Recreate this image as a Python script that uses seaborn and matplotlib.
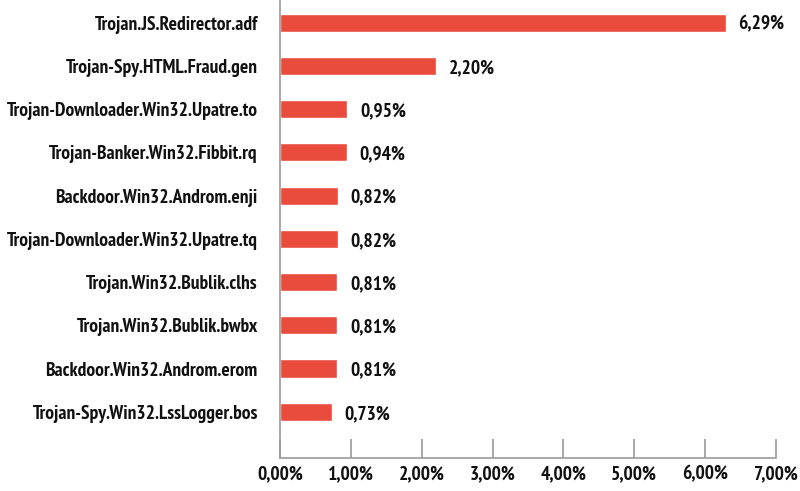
import matplotlib
matplotlib.use("Agg")
import matplotlib.pyplot as plt
import seaborn as sns
import pandas as pd
from matplotlib.ticker import FuncFormatter

names = [
    "Trojan.JS.Redirector.adf",
    "Trojan-Spy.HTML.Fraud.gen",
    "Trojan-Downloader.Win32.Upatre.to",
    "Trojan-Banker.Win32.Fibbit.rq",
    "Backdoor.Win32.Androm.enji",
    "Trojan-Downloader.Win32.Upatre.tq",
    "Trojan.Win32.Bublik.clhs",
    "Trojan.Win32.Bublik.bwbx",
    "Backdoor.Win32.Androm.erom",
    "Trojan-Spy.Win32.LssLogger.bos",
]
shares = [6.29, 2.20, 0.95, 0.94, 0.82, 0.82, 0.81, 0.81, 0.81, 0.73]

df = pd.DataFrame({"name": names, "share": shares})

sns.set_style("white")
plt.rcParams["font.family"] = ["PT Sans Narrow", "Liberation Sans Narrow", "DejaVu Sans"]
plt.rcParams["font.weight"] = "bold"

fig, ax = plt.subplots(figsize=(8, 4.91), dpi=100)
fig.subplots_adjust(left=0.35, right=0.97, top=0.998, bottom=0.067)

sns.barplot(data=df, x="share", y="name", color="#e94b3c", width=0.42,
            saturation=1, ax=ax)


def pct(v):
    return f"{v:.2f}".replace(".", ",") + "%"


for i, v in enumerate(shares):
    ax.text(v + 0.18, i + 0.05, pct(v), va="center", ha="left",
            fontsize=14, fontweight="bold", color="#111111")

ax.set_xlim(0, 7)
ax.set_ylim(10.07, -0.5)
ax.set_xticks(range(8))
ax.xaxis.set_major_formatter(FuncFormatter(lambda x, p: pct(x)))
ax.set_xlabel("")
ax.set_ylabel("")

for s in ["top", "right"]:
    ax.spines[s].set_visible(False)
for s in ["left", "bottom"]:
    ax.spines[s].set_color("#9a9a9a")
    ax.spines[s].set_linewidth(1.2)

ax.tick_params(axis="x", direction="in", length=14, width=1.2, color="#9a9a9a",
               labelsize=14, pad=5, bottom=True)
ax.tick_params(axis="y", length=0, labelsize=14, pad=16)
for lab in ax.get_xticklabels() + ax.get_yticklabels():
    lab.set_fontweight("bold")
    lab.set_color("#111111")

fig.savefig("out.png", dpi=100)
